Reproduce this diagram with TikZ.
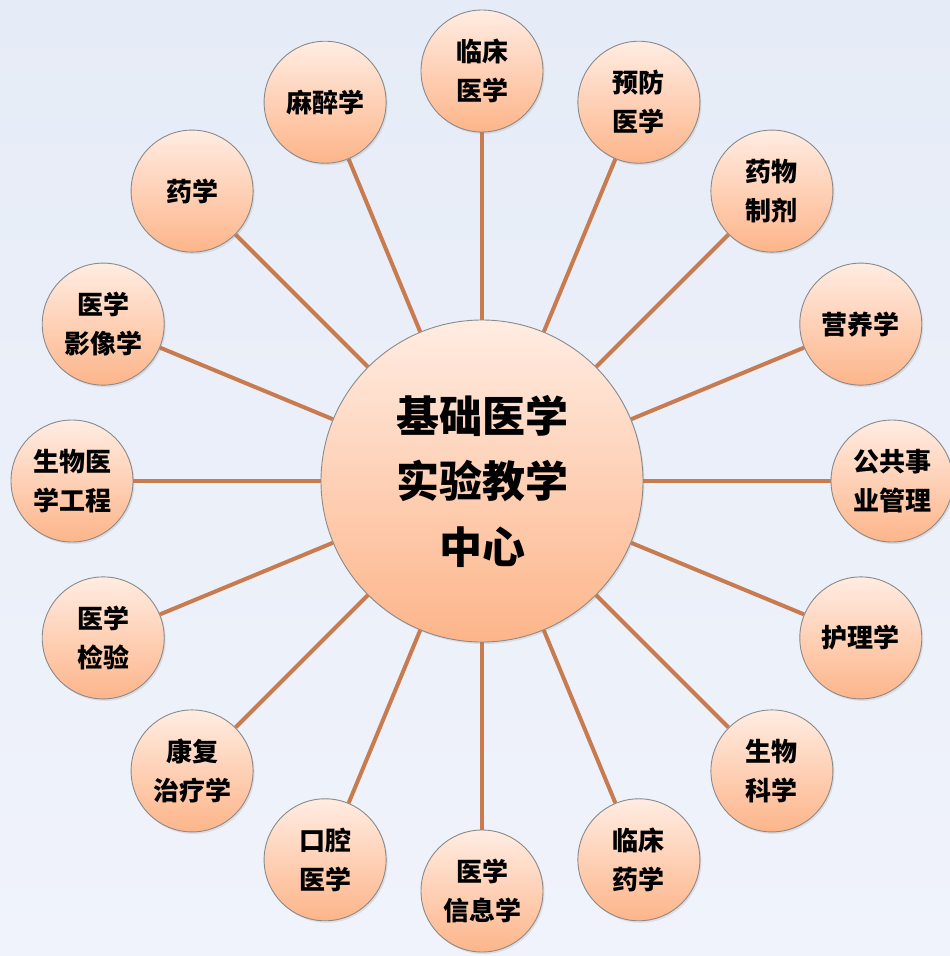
\documentclass[tikz,border=0pt]{standalone}
\usepackage{fontspec}
\newfontfamily\cjk{Noto Sans CJK SC}
\usetikzlibrary{shadows}
\definecolor{bgtop}{HTML}{E6ECF7}
\definecolor{bgbot}{HTML}{F0F3FB}
\definecolor{ctop}{HTML}{FFECE2}
\definecolor{cbot}{HTML}{FDB58A}
\definecolor{spokecol}{HTML}{C97B50}
\definecolor{rimcol}{HTML}{8A8A8A}
\pgfdeclarelayer{bg}
\pgfdeclarelayer{lines}
\pgfsetlayers{bg,lines,main}
\tikzset{
  ball/.style={circle, draw=rimcol, line width=0.9pt, top color=ctop, bottom color=cbot,
    inner sep=0pt, align=center, text=black,
    drop shadow={opacity=0.18, shadow xshift=1.5pt, shadow yshift=-2pt}},
  hub/.style={ball, minimum size=322pt, font=\cjk\bfseries\fontsize{43}{65.5}\selectfont},
  leaf/.style={ball, minimum size=122pt, font=\cjk\bfseries\fontsize{26}{39}\selectfont},
  spoke/.style={draw=spokecol, line width=4pt}
}
\begin{document}
\begin{tikzpicture}[x=1pt,y=-1pt]
\begin{pgfonlayer}{bg}
\shade[top color=bgtop, bottom color=bgbot] (0,0) rectangle (950,956);
\end{pgfonlayer}
\useasboundingbox (0,0) rectangle (950,956);
\node[hub] (c) at (482,481) {基础医学\\实验教学\\中心};
\foreach \a/\t/\n in {
  90/{临床\\医学}/n1,
  67.5/{预防\\医学}/n2,
  45/{药物\\制剂}/n3,
  22.5/{营养学}/n4,
  0/{公共事\\业管理}/n5,
  -22.5/{护理学}/n6,
  -45/{生物\\科学}/n7,
  -67.5/{临床\\药学}/n8,
  -90/{医学\\信息学}/n9,
  -112.5/{口腔\\医学}/n10,
  -135/{康复\\治疗学}/n11,
  -157.5/{医学\\检验}/n12,
  180/{生物医\\学工程}/n13,
  157.5/{医学\\影像学}/n14,
  135/{药学}/n15,
  112.5/{麻醉学}/n16}{
  \node[leaf] (\n) at ({482+410*cos(\a)},{481-410*sin(\a)}) {\t};
  \begin{pgfonlayer}{lines}
  \draw[spoke] (c) -- (\n);
  \end{pgfonlayer}
}
\end{tikzpicture}
\end{document}
